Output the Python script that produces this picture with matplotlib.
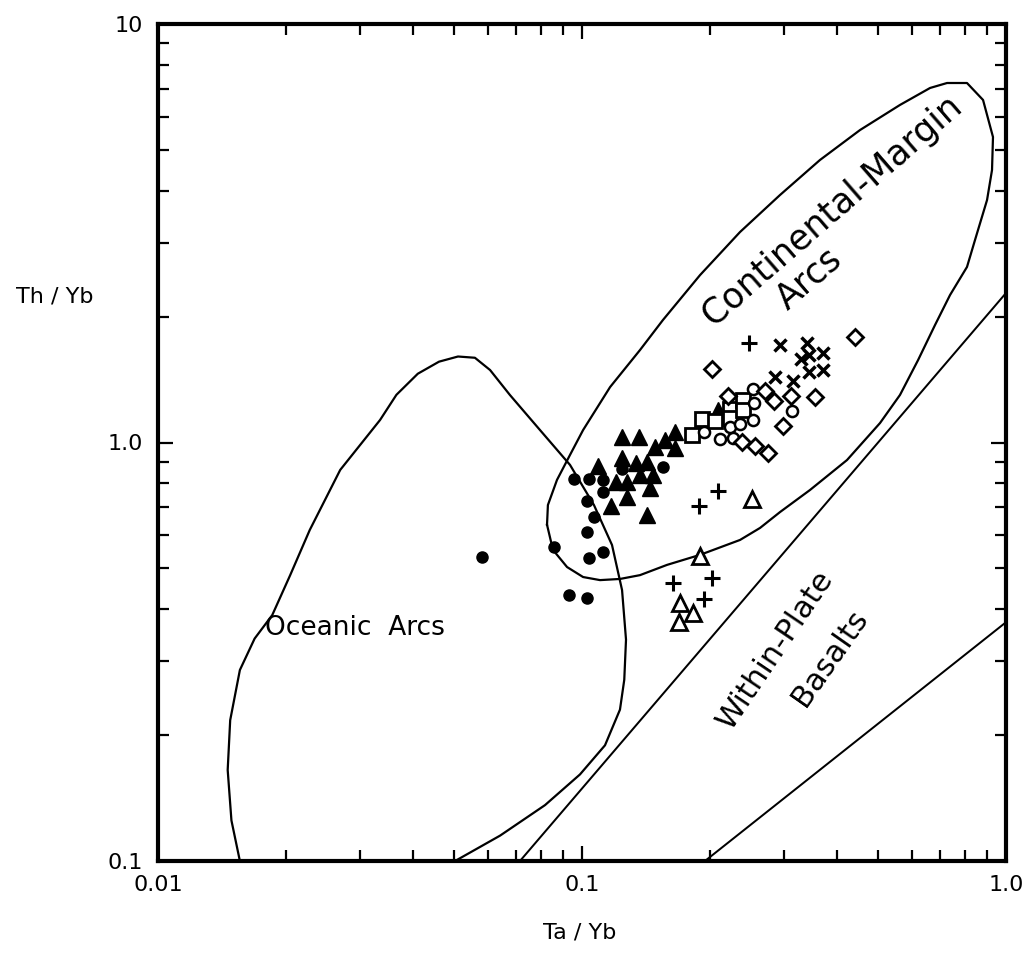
import matplotlib
matplotlib.use('Agg')
import matplotlib.pyplot as plt
from matplotlib.ticker import NullFormatter

# sample groups (Ta/Yb, Th/Yb)
filled_circle_x = [0.058, 0.086, 0.093, 0.103, 0.104, 0.112, 0.103, 0.107, 0.103, 0.112,
                   0.096, 0.104, 0.112, 0.124, 0.155]
filled_circle_y = [0.533, 0.563, 0.432, 0.425, 0.530, 0.548, 0.611, 0.664, 0.725, 0.762,
                   0.818, 0.818, 0.814, 0.865, 0.874]

filled_tri_x = [0.124, 0.136, 0.166, 0.157, 0.149, 0.166, 0.209, 0.109, 0.124, 0.134,
                0.142, 0.137, 0.147, 0.120, 0.128, 0.145, 0.128, 0.117, 0.142]
filled_tri_y = [1.031, 1.031, 1.059, 1.014, 0.976, 0.970, 1.196, 0.879, 0.918, 0.893,
                0.898, 0.836, 0.836, 0.805, 0.805, 0.779, 0.741, 0.705, 0.671]

square_x = [0.182, 0.192, 0.206, 0.223, 0.223, 0.240, 0.240]
square_y = [1.042, 1.138, 1.126, 1.202, 1.144, 1.264, 1.196]

circle_x = [0.194, 0.212, 0.223, 0.236, 0.253, 0.255, 0.253, 0.313, 0.227]
circle_y = [1.059, 1.019, 1.089, 1.107, 1.132, 1.243, 1.342, 1.189, 1.025]

diamond_x = [0.203, 0.221, 0.270, 0.284, 0.311, 0.354, 0.441, 0.298, 0.239, 0.256, 0.275]
diamond_y = [1.498, 1.292, 1.327, 1.257, 1.292, 1.285, 1.787, 1.095, 1.003, 0.981, 0.944]

cross_x = [0.293, 0.339, 0.328, 0.343, 0.370, 0.343, 0.370, 0.285, 0.315]
cross_y = [1.710, 1.729, 1.582, 1.618, 1.636, 1.474, 1.490, 1.434, 1.403]

plus_x = [0.248, 0.209, 0.189, 0.164, 0.203, 0.194]
plus_y = [1.729, 0.766, 0.705, 0.462, 0.475, 0.423]

open_tri_x = [0.252, 0.190, 0.170, 0.183, 0.169]
open_tri_y = [0.733, 0.536, 0.414, 0.391, 0.372]

# field boundaries
oceanic_x = [0.0156, 0.0149, 0.0146, 0.0148, 0.0156, 0.0169, 0.0186, 0.0205, 0.0228,
             0.0269, 0.0334, 0.0365, 0.0410, 0.0460, 0.0510, 0.0559, 0.0607, 0.0676,
             0.0796, 0.0937, 0.1067, 0.1177, 0.1243, 0.1270, 0.1258, 0.1229, 0.1133,
             0.0989, 0.0818, 0.0641, 0.0502]
oceanic_y = [0.100, 0.125, 0.165, 0.217, 0.286, 0.340, 0.387, 0.482, 0.618,
             0.860, 1.132, 1.300, 1.460, 1.560, 1.605, 1.594, 1.490, 1.299,
             1.071, 0.884, 0.709, 0.569, 0.444, 0.338, 0.271, 0.230, 0.189,
             0.161, 0.136, 0.115, 0.100]

continental_x = [0.0827, 0.0831, 0.0873, 0.0937, 0.1006, 0.1165, 0.1370, 0.1552, 0.1899,
                 0.2359, 0.2931, 0.3641, 0.4527, 0.5623, 0.6621, 0.7260, 0.8091, 0.8828,
                 0.9318, 0.9269, 0.9022, 0.8451, 0.8091, 0.7379, 0.6802, 0.6204, 0.5623,
                 0.5045, 0.4217, 0.3449, 0.2931, 0.2630, 0.2359, 0.1899, 0.1587, 0.1370,
                 0.1229, 0.1103, 0.1006, 0.0922, 0.0854, 0.0827]
continental_y = [0.636, 0.709, 0.814, 0.934, 1.071, 1.357, 1.663, 1.962, 2.513,
                 3.184, 3.903, 4.732, 5.581, 6.406, 7.033, 7.228, 7.228, 6.584,
                 5.370, 4.479, 3.797, 3.047, 2.627, 2.251, 1.909, 1.574, 1.299,
                 1.113, 0.908, 0.770, 0.682, 0.625, 0.585, 0.539, 0.510, 0.482,
                 0.472, 0.469, 0.477, 0.504, 0.554, 0.636]

wpb_upper_x = [0.0714, 1.0]
wpb_upper_y = [0.1, 2.276]
wpb_lower_x = [0.195, 1.0]
wpb_lower_y = [0.1, 0.372]

fig = plt.figure(figsize=(10.29, 9.57), dpi=100)
ax = fig.add_axes([158 / 1029, 1 - 861 / 957, 848 / 1029, 837 / 957])
ax.set_xscale('log')
ax.set_yscale('log')
ax.set_xlim(0.01, 1.0)
ax.set_ylim(0.1, 10)

lw = 1.6
ax.plot(oceanic_x, oceanic_y, color='black', lw=lw)
ax.plot(continental_x, continental_y, color='black', lw=lw)
ax.plot(wpb_upper_x, wpb_upper_y, color='black', lw=lw * 0.9)
ax.plot(wpb_lower_x, wpb_lower_y, color='black', lw=lw * 0.9)

ax.plot(filled_circle_x, filled_circle_y, 'o', ms=8, color='black', ls='none')
ax.plot(filled_tri_x, filled_tri_y, '^', ms=11, color='black', ls='none')
ax.plot(square_x, square_y, 's', ms=10, mfc='white', mec='black', mew=2, ls='none')
ax.plot(circle_x, circle_y, 'o', ms=8, mfc='white', mec='black', mew=1.8, ls='none')
ax.plot(diamond_x, diamond_y, 'D', ms=8.5, mfc='white', mec='black', mew=2, ls='none')
ax.plot(cross_x, cross_y, 'x', ms=9, color='black', mew=2.5, ls='none')
ax.plot(plus_x, plus_y, '+', ms=11, color='black', mew=2.2, ls='none')
ax.plot(open_tri_x, open_tri_y, '^', ms=11, mfc='white', mec='black', mew=2, ls='none')

ax.set_xticks([0.01, 0.1, 1.0])
ax.set_xticklabels(['0.01', '0.1', '1.0'])
ax.set_yticks([0.1, 1.0, 10])
ax.set_yticklabels(['0.1', '1.0', '10'])
ax.xaxis.set_minor_formatter(NullFormatter())
ax.yaxis.set_minor_formatter(NullFormatter())
ax.tick_params(which='both', direction='in', top=True, right=True, width=1.6, labelsize=16)
ax.tick_params(which='major', length=11)
ax.tick_params(which='minor', length=8)
ax.tick_params(axis='x', pad=10)
ax.tick_params(axis='y', pad=11)
for s in ax.spines.values():
    s.set_linewidth(3)

ax.text(0.232, 0.278, 'Oceanic  Arcs', transform=ax.transAxes, fontsize=19,
        ha='center', va='center')
ax.text(0.795, 0.778, 'Continental-Margin', transform=ax.transAxes, fontsize=25,
        ha='center', va='center', rotation=41, rotation_mode='anchor')
ax.text(0.768, 0.696, 'Arcs', transform=ax.transAxes, fontsize=25,
        ha='center', va='center', rotation=41, rotation_mode='anchor')
ax.text(0.728, 0.252, 'Within-Plate', transform=ax.transAxes, fontsize=22,
        ha='center', va='center', rotation=56, rotation_mode='anchor')
ax.text(0.792, 0.243, 'Basalts', transform=ax.transAxes, fontsize=22,
        ha='center', va='center', rotation=55, rotation_mode='anchor')

fig.text(55 / 1029, 1 - 297 / 957, 'Th / Yb', fontsize=16, ha='center', va='center')
fig.text(580 / 1029, 1 - 932 / 957, 'Ta / Yb', fontsize=16, ha='center', va='center')

fig.savefig('out.png', dpi=100)
